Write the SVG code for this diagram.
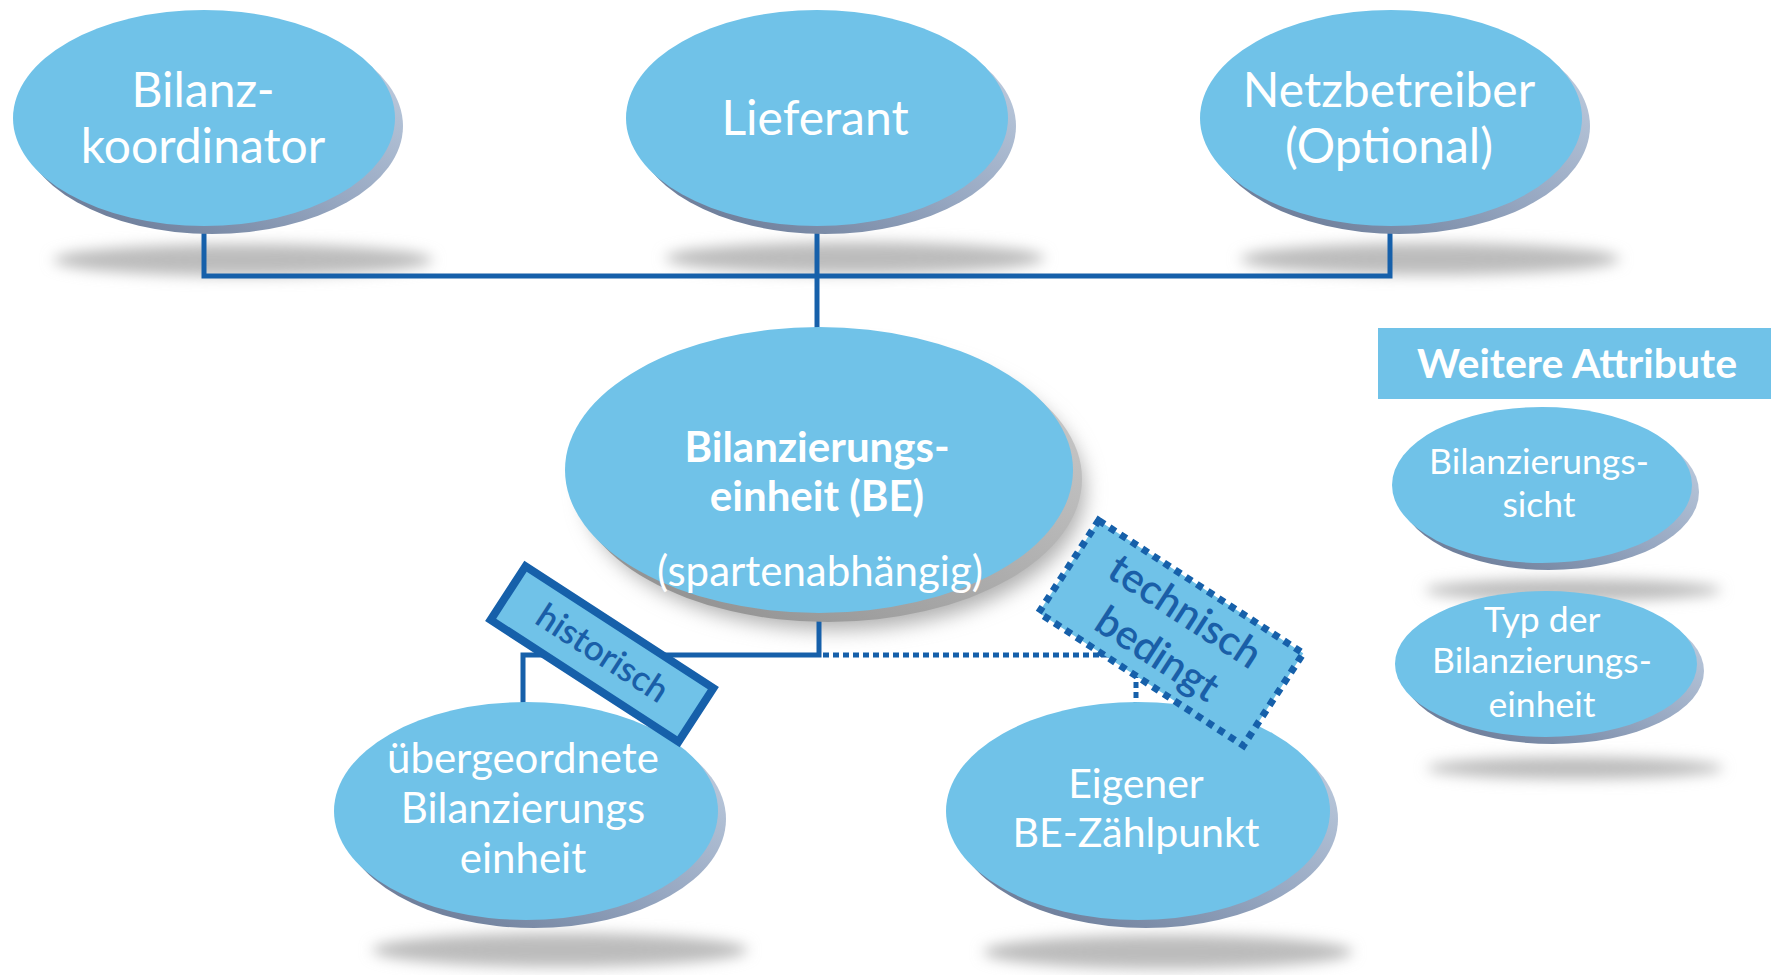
<svg xmlns="http://www.w3.org/2000/svg" width="1771" height="975" viewBox="0 0 1771 975">
<defs>
<style>
.face{fill:#70c2e8}
.edge{fill:url(#edgeGrad)}
.edgeGray{fill:url(#edgeGray)}
.shadow{fill:#bcbcbc;filter:url(#blur)}
.t{font-family:Lato,"Open Sans","Liberation Sans",sans-serif;fill:#ffffff;text-anchor:middle}
.lbl{font-family:Lato,"Open Sans","Liberation Sans",sans-serif;fill:#1a5fa8;text-anchor:middle}
.conn{fill:none;stroke:#1660aa;stroke-width:5}
.dot{fill:none;stroke:#1660aa;stroke-width:5;stroke-dasharray:6 4}
</style>
<linearGradient id="edgeGrad" x1="1" y1="0" x2="0" y2="1">
<stop offset="0" stop-color="#c9d6e6"/>
<stop offset="0.5" stop-color="#97a8c2"/>
<stop offset="1" stop-color="#5f6f8c"/>
</linearGradient>
<linearGradient id="edgeGray" x1="1" y1="0" x2="0" y2="1">
<stop offset="0" stop-color="#d0d0d0"/>
<stop offset="1" stop-color="#8a8a8a"/>
</linearGradient>
<filter id="blur" x="-20%" y="-100%" width="140%" height="300%"><feGaussianBlur stdDeviation="7"/></filter>
<filter id="blur2" x="-20%" y="-30%" width="140%" height="160%"><feGaussianBlur stdDeviation="10"/></filter>
</defs>
<rect width="1771" height="975" fill="#ffffff"/>

<g id="shadows">
<ellipse class="shadow" cx="243" cy="260" rx="190" ry="16"/>
<ellipse class="shadow" cx="855" cy="258" rx="190" ry="16"/>
<ellipse class="shadow" cx="1430" cy="259" rx="190" ry="16"/>
<ellipse class="shadow" cx="560" cy="950" rx="188" ry="17"/>
<ellipse class="shadow" cx="1168" cy="952" rx="185" ry="17"/>
<ellipse class="shadow" cx="1573" cy="590" rx="148" ry="11"/>
<ellipse class="shadow" cx="1575" cy="768" rx="148" ry="11"/>
<ellipse cx="835" cy="490" rx="250" ry="140" fill="#b0b0b0" filter="url(#blur2)"/>
</g>

<g id="connectors">
<path class="conn" d="M204 220 V276 H1390 V220"/>
<path class="conn" d="M817 220 V335"/>
<path class="conn" d="M819 605 V655 H523 V710"/>
<path class="dot" d="M823 655 H1136 V708"/>
</g>

<g id="bilanzkoordinator">
<ellipse class="edge" cx="212" cy="126" rx="191" ry="108"/>
<ellipse class="face" cx="204" cy="118" rx="191" ry="108"/>
<text class="t" font-size="48" x="203" y="107">Bilanz-</text>
<text class="t" font-size="48" x="203" y="163">koordinator</text>
</g>

<g id="lieferant">
<ellipse class="edge" cx="825" cy="126" rx="191" ry="108"/>
<ellipse class="face" cx="817" cy="118" rx="191" ry="108"/>
<text class="t" font-size="48" x="815" y="135">Lieferant</text>
</g>

<g id="netzbetreiber">
<ellipse class="edge" cx="1399" cy="126" rx="191" ry="108"/>
<ellipse class="face" cx="1391" cy="118" rx="191" ry="108"/>
<text class="t" font-size="48" x="1389" y="107">Netzbetreiber</text>
<text class="t" font-size="48" x="1389" y="163">(Optional)</text>
</g>

<g id="bilanzierungseinheit">
<ellipse class="edgeGray" cx="828" cy="479" rx="254" ry="143"/>
<ellipse class="face" cx="819" cy="470" rx="254" ry="143"/>
<text class="t" font-size="42" font-weight="bold" x="817" y="462">Bilanzierungs-</text>
<text class="t" font-size="42" font-weight="bold" x="817" y="511">einheit (BE)</text>
<text class="t" font-size="42" x="820" y="586">(spartenabhängig)</text>
</g>

<g id="uebergeordnete">
<ellipse class="edge" cx="534" cy="819" rx="192" ry="109"/>
<ellipse class="face" cx="526" cy="811" rx="192" ry="109"/>
<text class="t" font-size="42" x="523" y="773">übergeordnete</text>
<text class="t" font-size="42" x="523" y="823">Bilanzierungs</text>
<text class="t" font-size="42" x="523" y="873">einheit</text>
</g>

<g id="eigener-be-zaehlpunkt">
<ellipse class="edge" cx="1146" cy="819" rx="192" ry="109"/>
<ellipse class="face" cx="1138" cy="811" rx="192" ry="109"/>
<text class="t" font-size="41" x="1136" y="798">Eigener</text>
<text class="t" font-size="41" x="1136" y="847">BE-Zählpunkt</text>
</g>

<g id="weitere-attribute">
<rect x="1378" y="328" width="393" height="71" fill="#70c2e8"/>
<text class="t" font-size="41" font-weight="bold" x="1577" y="378">Weitere Attribute</text>
</g>

<g id="bilanzierungssicht">
<ellipse class="edge" cx="1549" cy="492" rx="150" ry="78"/>
<ellipse class="face" cx="1542" cy="485" rx="150" ry="78"/>
<text class="t" font-size="35.5" x="1539" y="474">Bilanzierungs-</text>
<text class="t" font-size="35.5" x="1539" y="517">sicht</text>
</g>

<g id="typ-der-bilanzierungseinheit">
<ellipse class="edge" cx="1553" cy="671" rx="151" ry="73"/>
<ellipse class="face" cx="1546" cy="664" rx="151" ry="73"/>
<text class="t" font-size="35.5" x="1542" y="632">Typ der</text>
<text class="t" font-size="35.5" x="1542" y="673">Bilanzierungs-</text>
<text class="t" font-size="35.5" x="1542" y="717">einheit</text>
</g>

<g id="label-historisch" transform="translate(602 654) rotate(33)">
<rect x="-112" y="-32" width="224" height="64" fill="#70c2e8" stroke="#1660aa" stroke-width="8"/>
<text class="lbl" font-size="35" font-weight="600" x="0" y="11">historisch</text>
</g>

<g id="label-technisch-bedingt" transform="translate(1171 633) rotate(33)">
<rect x="-122" y="-55" width="244" height="110" fill="#70c2e8" stroke="#1660aa" stroke-width="7" stroke-dasharray="7 6"/>
<text class="lbl" font-size="41" font-weight="600" x="0" y="-12">technisch</text>
<text class="lbl" font-size="41" font-weight="600" x="0" y="39">bedingt</text>
</g>
</svg>
